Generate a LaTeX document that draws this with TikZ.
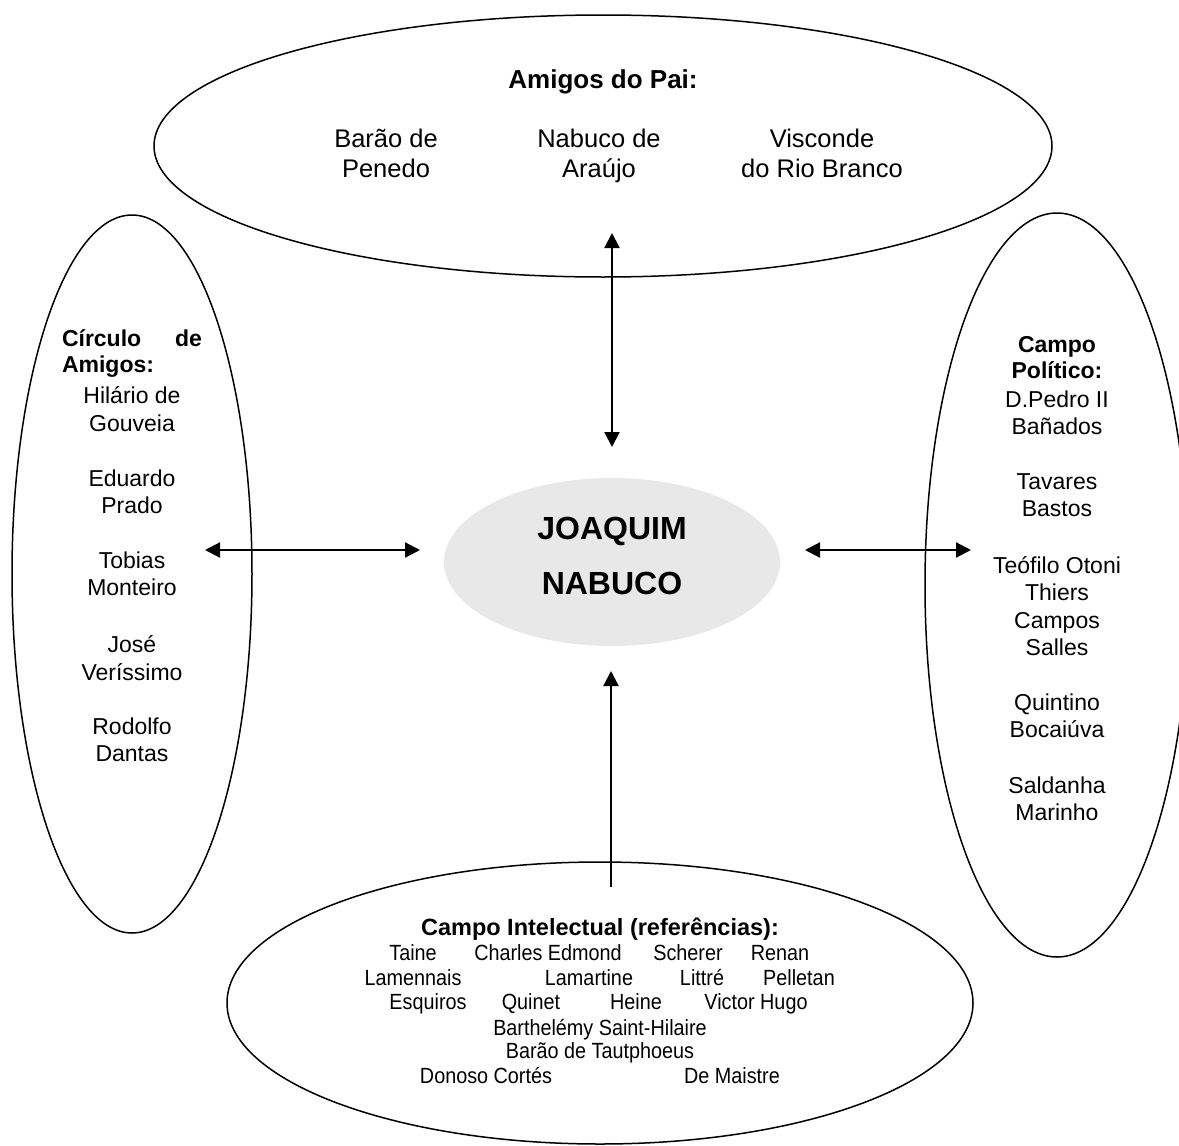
\documentclass[tikz,border=0pt]{standalone}
\usepackage{fontspec}
\setmainfont{Liberation Sans}
\newfontfamily\narrowfont[FakeStretch=0.9]{Liberation Sans}
\usetikzlibrary{shapes.geometric,arrows.meta}

\begin{document}
\begin{tikzpicture}[x=1pt,y=-1pt,
  >={Triangle[length=15pt,width=15pt]},
  field/.style={ellipse,draw,line width=1.5pt,inner sep=0pt},
  link/.style={line width=2.2pt},
  names/.style={align=center,inner sep=0pt,font=\fontsize{23}{27.5}\selectfont,
    execute at begin node=\strut,execute at end node=\strut},
  head/.style={align=center,inner sep=0pt,font=\bfseries\fontsize{23}{26}\selectfont},
  topname/.style={align=center,inner sep=0pt,font=\fontsize{25.5}{30}\selectfont,
    execute at begin node=\strut,execute at end node=\strut},
  ref/.style={anchor=base,inner sep=0pt,font=\narrowfont\fontsize{22}{24}\selectfont}]
\useasboundingbox (0,0) rectangle (1179,1146);

% the four fields and the centre
\node[field,minimum width=898pt,minimum height=262pt] (pai) at (603,146) {};
\node[field,minimum width=240pt,minimum height=718pt] (circulo) at (132,574) {};
\node[field,minimum width=264pt,minimum height=744pt] (politico) at (1057,585) {};
\node[field,minimum width=746pt,minimum height=282pt] (intelectual) at (600,1003) {};
\node[ellipse,fill=gray!18,minimum width=336pt,minimum height=168pt] (joaquim) at (612,562) {};
\node[align=center,inner sep=0pt,font=\bfseries\fontsize{32}{55}\selectfont] (nome) at (612,556) {JOAQUIM\\NABUCO};

% Amigos do Pai
\node[inner sep=0pt,anchor=base,font=\bfseries\fontsize{26}{30}\selectfont] (paititle) at (603,88) {Amigos do Pai:};
\node[topname] (penedo) at (386,158) {Barão de\\Penedo};
\node[topname] (araujo) at (599,158) {Nabuco de\\Araújo};
\node[topname] (branco) at (822,158) {Visconde\\do Rio Branco};

% Circulo de Amigos
\node[head,align=left,text width=140pt] (circtitle) at (132,353) {Círculo\hfill de\\Amigos:};
\node[names] (gouveia) at (132,413) {Hilário de\\Gouveia};
\node[names] (prado) at (132,496) {Eduardo\\Prado};
\node[names] (monteiro) at (132,578) {Tobias\\Monteiro};
\node[names] (verissimo) at (132,662) {José\\Veríssimo};
\node[names] (dantas) at (132,744) {Rodolfo\\Dantas};

% Campo Politico
\node[head] (poltitle) at (1057,358) {Campo\\Político:};
\node[names] (pedro) at (1057,417) {D.Pedro II\\Bañados};
\node[names] (tavares) at (1057,499) {Tavares\\Bastos};
\node[names] (otoni) at (1057,610) {Teófilo Otoni\\Thiers\\Campos\\Salles};
\node[names] (bocaiuva) at (1057,720) {Quintino\\Bocaiúva};
\node[names] (marinho) at (1057,803) {Saldanha\\Marinho};

% Campo Intelectual
\node[inner sep=0pt,anchor=base,font=\bfseries\fontsize{23.5}{26}\selectfont] (inttitle) at (600,935) {Campo Intelectual (referências):};
\node[ref] (taine) at (413,960) {Taine};
\node[ref] (edmond) at (548,960) {Charles Edmond};
\node[ref] (scherer) at (688,960) {Scherer};
\node[ref] (renan) at (780,960) {Renan};
\node[ref] (lamennais) at (413,985) {Lamennais};
\node[ref] (lamartine) at (589,985) {Lamartine};
\node[ref] (littre) at (702,985) {Littré};
\node[ref] (pelletan) at (799,985) {Pelletan};
\node[ref] (esquiros) at (428,1009) {Esquiros};
\node[ref] (quinet) at (531,1009) {Quinet};
\node[ref] (heine) at (636,1009) {Heine};
\node[ref] (hugo) at (756,1009) {Victor Hugo};
\node[ref] (hilaire) at (600,1035) {Barthelémy Saint-Hilaire};
\node[ref] (tautphoeus) at (600,1058) {Barão de Tautphoeus};
\node[ref] (donoso) at (486,1083) {Donoso Cortés};
\node[ref] (maistre) at (732,1083) {De Maistre};

% arrows
\coordinate (paiend) at (612,233);
\coordinate (paistart) at (612,447);
\coordinate (circend) at (205,550);
\coordinate (circstart) at (420,550);
\coordinate (polstart) at (805,550);
\coordinate (polend) at (971,550);
\coordinate (intstart) at (611,887);
\coordinate (intend) at (611,671);
\draw[link,<->] (paiend) -- (paistart);
\draw[link,<->] (circend) -- (circstart);
\draw[link,<->] (polstart) -- (polend);
\draw[link,->] (intstart) -- (intend);
\end{tikzpicture}
\end{document}
